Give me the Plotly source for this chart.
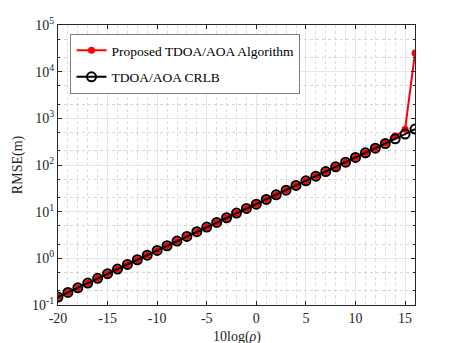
import plotly.graph_objects as go

snr_db = list(range(-20, 17))

rmse_proposed = [0.148, 0.186, 0.234, 0.295, 0.372, 0.468, 0.589, 0.741, 0.933, 1.17,
                 1.48, 1.86, 2.34, 2.95, 3.72, 4.68, 5.89, 7.41, 9.33, 11.7,
                 14.5, 18.3, 23.0, 28.9, 36.4, 45.8, 57.6, 72.5, 91.2, 115,
                 145, 182, 229, 292, 420, 580, 25000]
rmse_crlb = [0.148, 0.186, 0.234, 0.295, 0.372, 0.468, 0.589, 0.741, 0.933, 1.17,
             1.48, 1.86, 2.34, 2.95, 3.72, 4.68, 5.89, 7.41, 9.33, 11.7,
             14.5, 18.3, 23.0, 28.9, 36.4, 45.8, 57.6, 72.5, 91.2, 115,
             145, 182, 229, 288, 363, 460, 590]

x_ticks = [-20, -15, -10, -5, 0, 5, 10, 15]
x_ticktext = ["-20", "-15", "-10", "-5", "0", "5", "10", "15"]
y_ticks = [0.1, 1, 10, 100, 1000, 10000, 100000]
y_ticktext = ["10<sup>-1</sup>", "10<sup>0</sup>", "10<sup>1</sup>", "10<sup>2</sup>",
              "10<sup>3</sup>", "10<sup>4</sup>", "10<sup>5</sup>"]

fig = go.Figure()
fig.add_trace(go.Scatter(
    x=snr_db, y=rmse_proposed, mode="lines+markers",
    name="Proposed TDOA/AOA Algorithm", legendgroup="a",
    line=dict(color="#ff0000", width=2),
    marker=dict(symbol="circle", size=7, color="#ff0000"),
))
fig.add_trace(go.Scatter(
    x=snr_db, y=rmse_crlb, mode="lines+markers",
    name="TDOA/AOA CRLB", legendgroup="b",
    line=dict(color="#000000", width=2),
    marker=dict(symbol="circle-open", size=9, color="#000000", line=dict(width=2)),
))

serif = "Liberation Serif"

# the page body adds an 8px margin, so the figure is sized 8px smaller
fig.update_layout(
    width=450, height=335,
    margin=dict(l=50, r=43, t=17, b=38),
    paper_bgcolor="white", plot_bgcolor="white",
    font=dict(family=serif, size=14, color="#262626"),
    showlegend=True,
    legend=dict(
        x=0.035, y=0.968, xanchor="left", yanchor="top",
        bgcolor="white", bordercolor="#7f7f7f", borderwidth=1,
        font=dict(family=serif, size=13.5, color="#000000"),
        traceorder="grouped", tracegroupgap=6,
    ),
)
fig.update_xaxes(
    range=[-20, 16], tickvals=x_ticks, ticktext=x_ticktext, automargin=False,
    showline=True, linecolor="#262626", linewidth=1, mirror="ticks",
    ticks="inside", ticklen=4, tickcolor="#262626",
    showgrid=True, gridcolor="#e6e6e6", gridwidth=1,
    minor=dict(dtick=1, showgrid=True, gridcolor="#dcdcdc", griddash="dot", ticks=""),
    zeroline=False,
)
fig.update_yaxes(
    type="log", range=[-1, 5], tickvals=y_ticks, ticktext=y_ticktext, automargin=False,
    showline=True, linecolor="#262626", linewidth=1, mirror="ticks",
    ticks="inside", ticklen=4, tickcolor="#262626",
    showgrid=True, gridcolor="#e6e6e6", gridwidth=1,
    minor=dict(showgrid=True, gridcolor="#d4d4d4", griddash="dot", ticks="inside", ticklen=2, tickcolor="#262626"),
    zeroline=False,
    title=dict(text="RMSE(m)", font=dict(family=serif, size=14, color="#262626"), standoff=6),
)
fig.add_annotation(
    text="10log(<i>ρ</i>)", xref="paper", yref="paper", x=0.5, y=-0.115,
    xanchor="center", yanchor="middle", showarrow=False,
    font=dict(family=serif, size=14, color="#262626"),
)

fig.write_html("out.html")
